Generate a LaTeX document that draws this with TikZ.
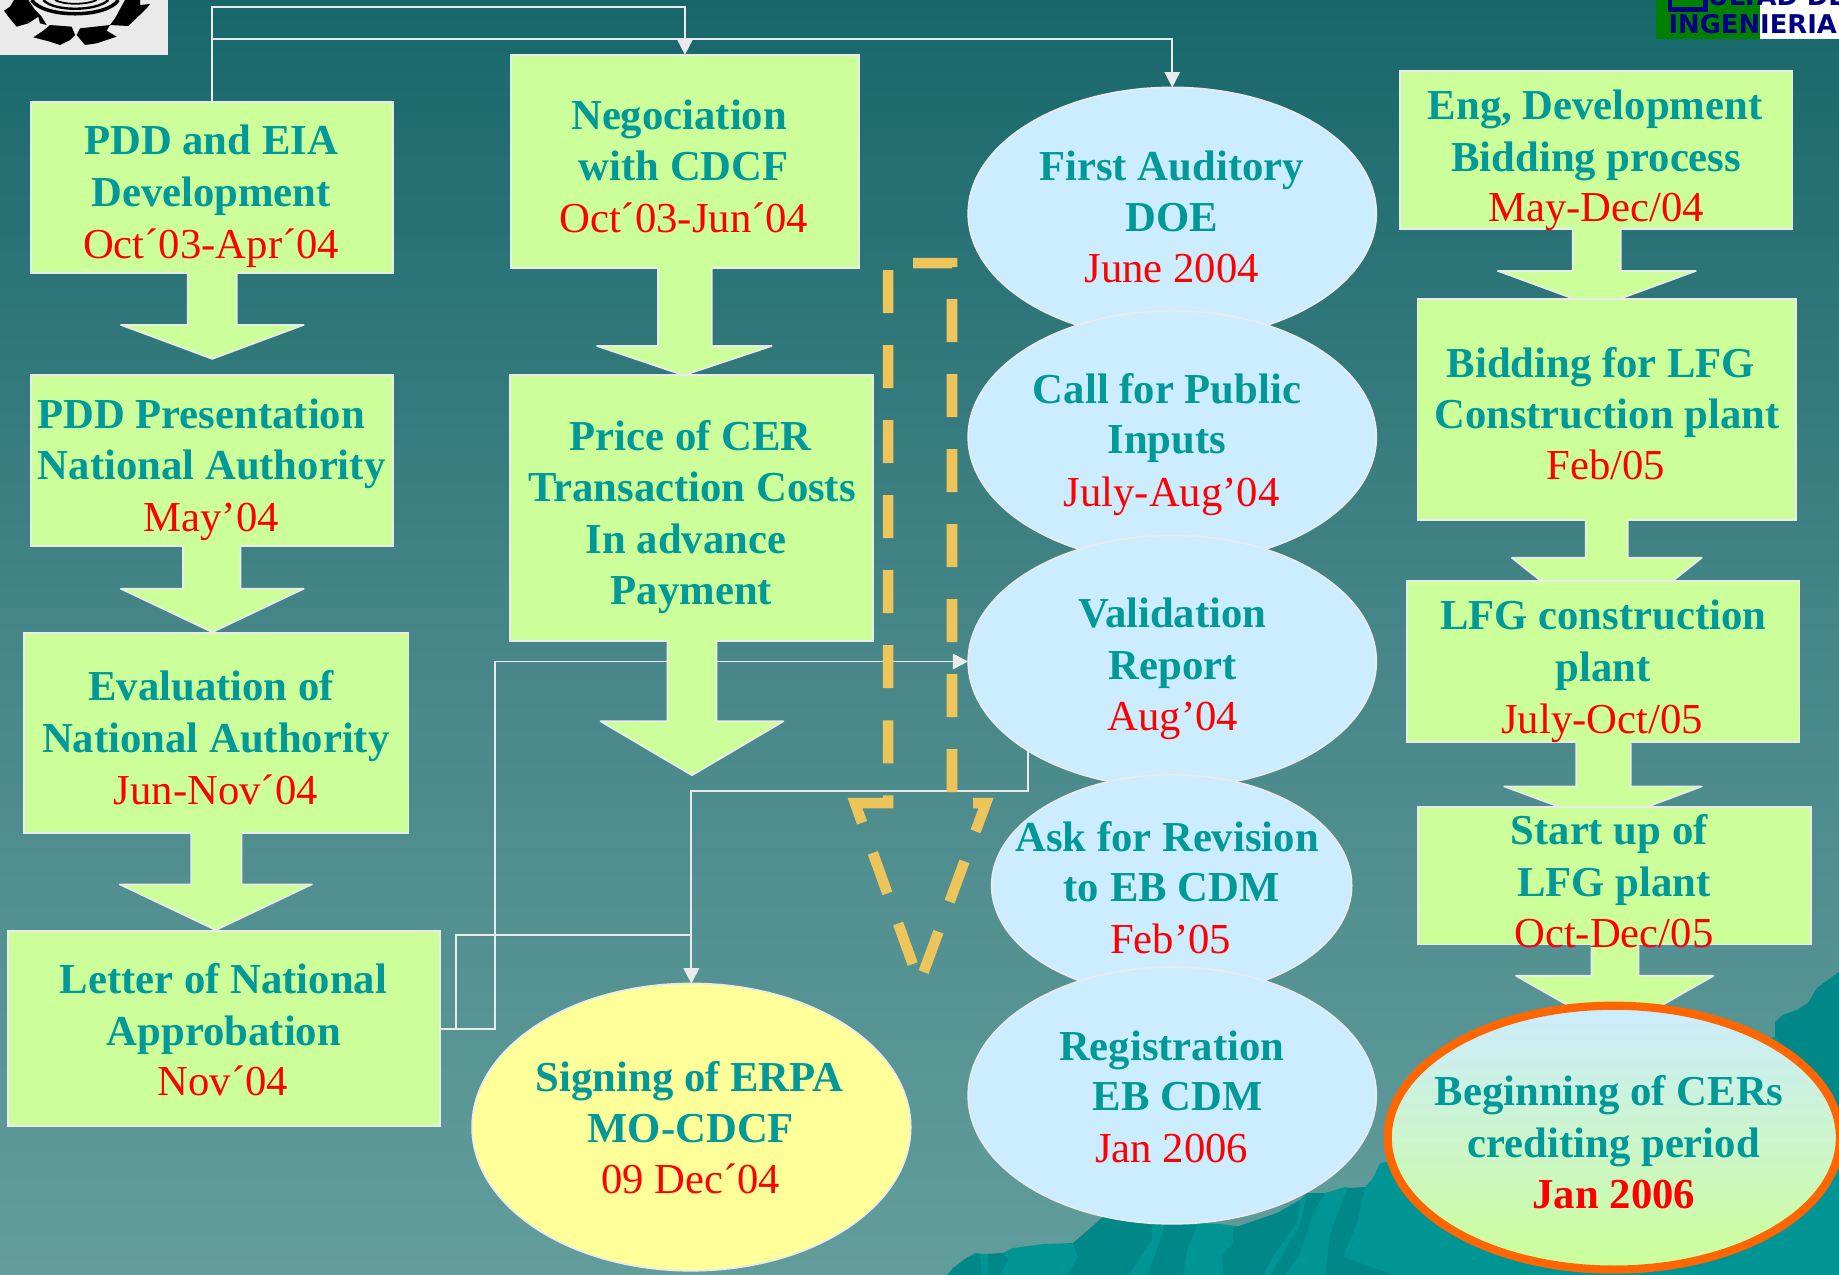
\documentclass[tikz,border=0pt]{standalone}
\usepackage{fontspec}
\setmainfont{Liberation Serif}
\newfontfamily\logofont{DejaVu Sans}
\usetikzlibrary{shapes.geometric,arrows.meta}
\definecolor{lime}{HTML}{CCFF99}
\definecolor{teal}{HTML}{009999}
\definecolor{sky}{HTML}{CCECFF}
\definecolor{lemon}{HTML}{FFFF99}
\definecolor{orng}{HTML}{FF6600}
\definecolor{edge}{HTML}{EAEAEA}
\definecolor{dashy}{HTML}{EDC55B}
\definecolor{bgtop}{RGB}{23,103,106}
\definecolor{bgmid}{RGB}{70,134,136}
\definecolor{bgbot}{RGB}{98,157,156}
\definecolor{mtn}{HTML}{009595}
\definecolor{mtnd}{HTML}{008888}
\definecolor{navyl}{RGB}{0,0,128}
\definecolor{greenl}{RGB}{0,128,0}
\tikzset{
  panel/.style={draw=edge,line width=1.4pt,fill=lime,rectangle,inner sep=0pt,outer sep=0pt,anchor=north west},
  bub/.style={draw=edge,line width=1.4pt,fill=sky,ellipse,inner sep=0pt,outer sep=0pt,minimum width=348pt,minimum height=215pt},
  conn/.style={draw=edge,line width=1.6pt},
  connarrow/.style={conn,-{Triangle[length=13pt,width=13pt,color=edge]}},
  headtxt/.style={anchor=base,text=teal,font=\fontsize{36.4}{44}\selectfont\bfseries,inner sep=0pt},
  datetxt/.style={anchor=base,text=red,font=\fontsize{36.4}{44}\selectfont,inner sep=0pt},
  dateb/.style={anchor=base,text=red,font=\fontsize{36.4}{44}\selectfont\bfseries,inner sep=0pt},
  dashline/.style={draw=dashy,line width=9pt,miter limit=10,dash pattern=on 36.66pt off 27.3pt},
  logotxt/.style={anchor=base west,inner sep=0pt,text=navyl,font=\fontsize{22}{22}\logofont\bfseries}
}
\newcommand\BoxN[5]{\pgfmathsetmacro\bw{#4-#2-1.4}\pgfmathsetmacro\bh{#5-#3-1.4}
  \node[panel,minimum width=\bw pt,minimum height=\bh pt] (#1) at (#2+0.7,#3+0.7) {};}
% stem left, stem right, stem top, head left, head right, head y, tip x, tip y
\newcommand\Arr[8]{\fill[lime] (#1,#3-1.5) -- (#1,#6) -- (#4,#6) -- (#7,#8) -- (#5,#6) -- (#2,#6) -- (#2,#3-1.5) -- cycle;
  \draw[edge,line width=1.4pt,line join=round] (#1,#3) -- (#1,#6) -- (#4,#6) -- (#7,#8) -- (#5,#6) -- (#2,#6) -- (#2,#3);}
\newcount\tcnt
\newcommand\TL[4][headtxt]{\global\advance\tcnt by 1 \node[#1,name=t\the\tcnt] at (#2,#3+12) {#4};}
\newcommand\DT[3]{\TL[datetxt]{#1}{#2}{#3}}
\begin{document}
\begin{tikzpicture}[x=1pt,y=-1pt]
\useasboundingbox (0,0) rectangle (1568,1087);
% background
\shade[top color=bgtop,bottom color=bgmid] (0,0) rectangle (1568,543.5);
\shade[top color=bgmid,bottom color=bgbot] (0,543) rectangle (1568,1087);
% mountains
\begin{scope}[x=.85266pt,y=-.85266pt]
\fill[mtn] (947,1275) -- (953,1268) -- (968,1257) -- (975,1253) -- (987,1254) -- (1003,1253) -- (1013,1248) -- (1043,1244) -- (1073,1243) -- (1087,1232) -- (1103,1217) -- (1220,1224) -- (1245,1227) -- (1277,1213) -- (1300,1200) -- (1307,1193) -- (1325,1193) -- (1345,1187) -- (1357,1190) -- (1365,1187) -- (1373,1178) -- (1380,1163) -- (1387,1162) -- (1500,1100) -- (1775,1037) -- (1775,1022) -- (1783,1015) -- (1797,1010) -- (1808,1003) -- (1817,988) -- (1828,980) -- (1839,972) -- (1839,1275) -- cycle;
\fill[mtnd] (1103,1217) -- (1073,1243) -- (1078,1257) -- (1067,1275) -- (1128,1275) -- (1152,1240) -- (1152,1225) -- cycle;
\fill[mtnd] (1165,1225) -- (1197,1225) -- (1187,1250) -- (1183,1275) -- (1148,1275) -- cycle;
\fill[mtnd] (1233,1228) -- (1277,1213) -- (1300,1200) -- (1297,1223) -- (1275,1253) -- (1263,1275) -- (1223,1275) -- (1222,1255) -- (1233,1242) -- cycle;
\fill[mtnd] (1307,1193) -- (1325,1193) -- (1313,1213) -- (1300,1253) -- (1285,1275) -- (1270,1275) -- (1300,1225) -- cycle;
\fill[mtnd] (1347,1188) -- (1365,1187) -- (1357,1223) -- (1343,1257) -- (1395,1275) -- (1325,1275) -- (1330,1235) -- cycle;
\fill[mtnd] (953,1268) -- (968,1257) -- (980,1254) -- (982,1275) -- (947,1275) -- cycle;
\fill[mtnd] (988,1254) -- (1003,1253) -- (1008,1260) -- (1000,1275) -- (988,1275) -- cycle;
\fill[mtnd] (1775,1037) -- (1775,1022) -- (1783,1015) -- (1797,1010) -- (1808,1003) -- (1817,988) -- (1828,980) -- (1839,972) -- (1839,1120) -- (1800,1060) -- cycle;
\end{scope}
% logos
\fill[edge] (0,0) rectangle (143,47);
\begin{scope}
\clip (0,0) rectangle (143,47);
\begin{scope}[x=.28422pt,y=-.28422pt]
\fill[black] (12,32) -- (30,20) -- (42,0) -- (85,0) -- (105,30) -- (125,50) -- (140,75) -- (120,70) -- (115,50) -- (85,70) -- (50,80) -- (25,50) -- cycle;
\fill[black] (150,75) -- (215,80) -- (225,105) -- (210,120) -- (180,135) -- (150,125) -- (100,112) -- (130,92) -- cycle;
\fill[black] (330,75) -- (240,85) -- (230,105) -- (255,135) -- (290,130) -- (350,110) -- (320,92) -- cycle;
\fill[black] (450,12) -- (420,15) -- (420,0) -- (375,0) -- (345,55) -- (330,75) -- (385,78) -- (440,25) -- cycle;
\draw[black,line width=3pt] (95,0) .. controls (130,55) and (320,55) .. (355,0);
\draw[black,line width=2pt] (130,0) .. controls (160,35) and (290,35) .. (325,0);
\draw[black,line width=1.5pt] (165,0) .. controls (190,15) and (260,15) .. (290,0);
\end{scope}
\end{scope}
\fill[greenl] (1412,0) rectangle (1501,33);
\fill[white] (1501,0) rectangle (1568,33);
\begin{scope}
\clip (1412,0) rectangle (1568,33);
\fill[navyl] (1422,0) rectangle (1456,10);
\fill[greenl] (1426,0) rectangle (1452,6);
\node[logotxt] (logoa) at (1456,4.5) {ULTAD DE};
\node[logotxt] (logob) at (1422.5,28.4) {INGENIERIA};
\end{scope}
% left column
\BoxN{b1}{25.5}{86}{336}{233.6}
\Arr{160}{202}{233.6}{103}{259}{277}{181}{306}
\BoxN{b2}{25.5}{319}{336}{466}
\Arr{156}{205}{466}{103}{259}{502}{181}{539}
\BoxN{b3}{20}{539}{349}{711}
\Arr{163}{206}{711}{102}{266}{754}{184}{793}
\BoxN{b4}{6}{793}{376}{961}
% second column
\BoxN{nego}{435}{46}{733}{229}
\Arr{561}{607}{229}{509}{658}{295}{583}{320}
\BoxN{price}{434}{319}{745}{547}
% right column
\BoxN{r1}{1193}{60}{1529}{196}
\Arr{1341}{1382}{196}{1277}{1446}{231}{1361.5}{262}
\BoxN{r2}{1208}{254}{1532}{444}
\Arr{1352}{1388}{444}{1289}{1451}{475.6}{1370}{540}
\BoxN{r3}{1199}{494.7}{1535}{633.5}
\Arr{1344}{1390.4}{633.5}{1282.4}{1451}{670.5}{1367}{702}
\BoxN{r4}{1208.5}{687.2}{1545}{806}
\Arr{1357}{1397}{806}{1292.6}{1461}{832}{1376.8}{880}
% ellipses
\node[bub] (e1) at (999.5,182) {};
\node[bub] (e2) at (999.5,372.5) {};
\node[bub] (e3) at (999.5,564) {};
\node[bub,minimum width=307pt,minimum height=189pt] (e4) at (999,755) {};
\node[bub,minimum height=219pt] (e5) at (999.5,934) {};
\node[bub,fill=lemon,minimum width=374pt,minimum height=245pt] (erpa) at (589.5,961) {};
\node[ellipse,draw=orng,line width=7pt,top color=sky,bottom color=lime,inner sep=0pt,outer sep=0pt,minimum width=385.6pt,minimum height=225pt] (cers) at (1376,970) {};
% connectors
\coordinate (c1) at (584,5.7);
\coordinate (c2) at (999.5,33.3);
\coordinate (c3) at (589.5,674.7);
\coordinate (c4) at (388.8,797.5);
\coordinate (c5) at (421.7,564);
\draw[connarrow] (b1.north) |- (c1) -- (nego.north);
\draw[connarrow] (b1.north) |- (c2) -- (e1.north);
\draw[connarrow] (e3.south west) |- (c3) -- (erpa.north);
\draw[connarrow] (b4.east) -| (c4) -| (erpa.north);
\draw[connarrow] (b4.east) -| (c5) -- (e3.west);
% arrow below Price box covers the connector
\Arr{569}{611}{547}{512}{668}{615}{590}{661}
% dashed block arrow
\draw[dashline] (747.8,684.7) -- (729,684.7) -- (784,838.2) -- (840.7,684.7) -- (811.7,684.7) -- (811.7,224.3) -- (757.2,224.3) -- (757.2,684.7) -- (747.8,684.7);
% texts
\TL{180}{120}{PDD and EIA}\TL{180}{164}{Development}\DT{180}{208}{Oct´03-Apr´04}
\TL{171.5}{353}{PDD Presentation}\TL{180.5}{397}{National Authority}\DT{180}{441}{May’04}
\TL{180}{585}{Evaluation of}\TL{184}{630}{National Authority}\DT{184}{674}{Jun-Nov´04}
\TL{190.5}{835}{Letter of National}\TL{191}{879}{Approbation}\DT{190}{922}{Nov´04}
\TL{579}{98}{Negociation}\TL{583}{142}{with CDCF}\DT{583}{186}{Oct´03-Jun´04}
\TL{589}{372}{Price of CER}\TL{590}{416}{Transaction Costs}\TL{585}{460}{In advance}\TL{589.5}{503}{Payment}
\TL{999}{142}{First Auditory}\TL{999}{185}{DOE}\DT{999}{229}{June 2004}
\TL{995}{332}{Call for Public}\TL{995}{375}{Inputs}\DT{999}{420}{July-Aug’04}
\TL{999.5}{523}{Validation}\TL{1000}{567}{Report}\DT{1000}{611}{Aug’04}
\TL{995}{714}{Ask for Revision}\TL{999}{757}{to EB CDM}\DT{998}{801}{Feb’05}
\TL{999}{892}{Registration}\TL{1004}{935}{EB CDM}\DT{999}{979}{Jan 2006}
\TL{588}{919}{Signing of ERPA}\TL{589}{962}{MO-CDCF}\DT{589}{1006}{09 Dec´04}
\TL{1360}{90}{Eng, Development}\TL{1361}{134}{Bidding process}\DT{1361}{177}{May-Dec/04}
\TL{1365}{310}{Bidding for LFG}\TL{1370}{353}{Construction plant}\DT{1369}{397}{Feb/05}
\TL{1367}{525}{LFG construction}\TL{1367}{569}{plant}\DT{1366}{613}{July-Oct/05}
\TL{1372}{708}{Start up of}\TL{1376}{752}{LFG plant}\DT{1376}{796}{Oct-Dec/05}
\TL{1372}{931}{Beginning of CERs}\TL{1376}{975}{crediting period}\TL[dateb]{1376}{1018}{Jan 2006}
\end{tikzpicture}
\end{document}
